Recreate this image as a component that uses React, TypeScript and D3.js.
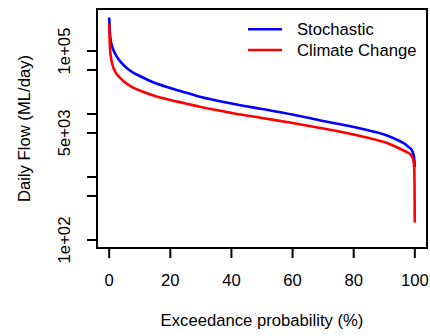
import React from "react";
import * as d3 from "d3";

const exceedance = [0, 0.3, 0.6, 1, 2, 3, 5, 7.5, 10, 15, 20, 25, 30, 40, 50, 60, 70, 80, 85, 90, 95, 97, 98, 99, 99.5, 99.8, 99.9, 100];
const stochastic = [340000, 179000, 139000, 116000, 89600, 74700, 57800, 46400, 40100, 31000, 25900, 21900, 18600, 14700, 12000, 9820, 7740, 6220, 5470, 4730, 3730, 3280, 2990, 2680, 2320, 2000, 1730, 1440];
const climateChange = [268000, 104000, 77400, 62200, 46400, 40100, 32200, 26800, 23600, 19300, 16700, 14700, 12900, 10400, 8640, 7200, 5890, 4730, 4160, 3590, 2830, 2540, 2400, 2150, 1860, 1440, 896, 190];
const xTicks = [0, 20, 40, 60, 80, 100];
const yTicks = [100, 500, 1000, 5000, 10000, 50000, 100000];
const yTickLabels = [
  { v: 100, label: "1e+02" },
  { v: 5000, label: "5e+03" },
  { v: 100000, label: "1e+05" },
];
const seriesNames = ["Stochastic", "Climate Change"];
const seriesColors = ["#0000FF", "#FF0000"];

const W = 430;
const H = 336;
const box = { left: 97, right: 427, top: 9, bottom: 248 };
const FONT = "'Liberation Sans', Arial, Helvetica, sans-serif";
const FS = 16.67;

export default function App() {
  const x = d3.scaleLinear().domain([0, 100]).range([109.2, 414.8]);
  const y = d3.scaleLog().domain([100, 100000]).range([240, 51]);
  const line = d3
    .line<number>()
    .x((_, i) => x(exceedance[i]))
    .y((d) => y(d))
    .curve(d3.curveMonotoneX);
  const series = [stochastic, climateChange];

  return (
    <svg
      width={W}
      height={H}
      style={{ position: "absolute", left: 0, top: 0, display: "block", background: "#fff" }}
      fontFamily={FONT}
      fontSize={FS}
    >
      <rect x={0} y={0} width={W} height={H} fill="#fff" />
      {series.map((s, k) => (
        <path key={k} d={line(s) || ""} fill="none" stroke={seriesColors[k]} strokeWidth={2.6} strokeLinejoin="round" />
      ))}
      <rect
        x={box.left}
        y={box.top}
        width={box.right - box.left}
        height={box.bottom - box.top}
        fill="none"
        stroke="#000"
        strokeWidth={2}
      />
      {xTicks.map((t) => (
        <g key={t}>
          <line x1={x(t)} x2={x(t)} y1={box.bottom} y2={box.bottom + 10} stroke="#000" strokeWidth={2} />
          <text x={x(t)} y={286} textAnchor="middle" fill="#000">
            {t}
          </text>
        </g>
      ))}
      {yTicks.map((t) => (
        <line key={t} x1={box.left - 10} x2={box.left} y1={y(t)} y2={y(t)} stroke="#000" strokeWidth={2} />
      ))}
      {yTickLabels.map((t) => (
        <text key={t.label} transform={`translate(70,${y(t.v)}) rotate(-90)`} textAnchor="middle" fill="#000">
          {t.label}
        </text>
      ))}
      <text x={(box.left + box.right) / 2} y={326} textAnchor="middle" fill="#000">
        Exceedance probability (%)
      </text>
      <text
        transform={`translate(30,${(box.top + box.bottom) / 2}) rotate(-90)`}
        textAnchor="middle"
        fill="#000"
      >
        Daily Flow (ML/day)
      </text>
      {seriesNames.map((n, k) => {
        const ly = 29.3 + k * 20.7;
        return (
          <g key={n}>
            <line x1={248} x2={282} y1={ly} y2={ly} stroke={seriesColors[k]} strokeWidth={2.6} />
            <text x={297} y={ly + 6} fill="#000">
              {n}
            </text>
          </g>
        );
      })}
    </svg>
  );
}
